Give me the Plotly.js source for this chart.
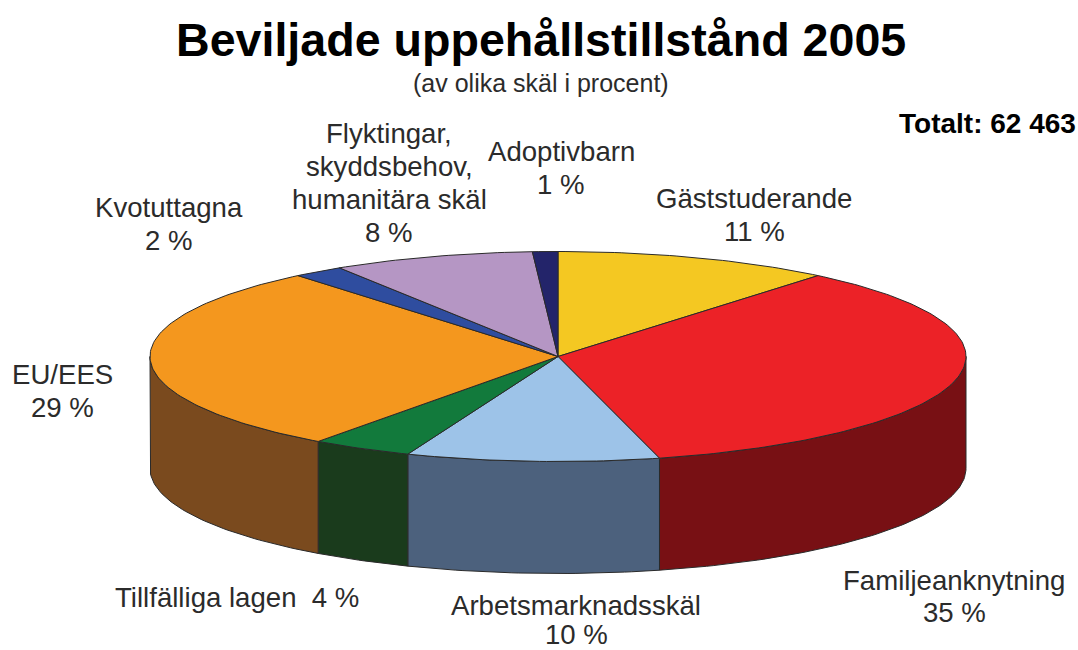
<!DOCTYPE html>
<html>
<head>
<meta charset="utf-8">
<script src="https://cdn.plot.ly/plotly-3.0.1.min.js"></script>
<style>html,body{margin:0;padding:0;background:#fff}#chart{width:1078px;height:650px}</style>
</head>
<body>
<div id="chart"></div>
<script>
// Data, clockwise from 12 o'clock
const categories = ["Gäststuderande","Familjeanknytning","Arbetsmarknadsskäl","Tillfälliga lagen","EU/EES","Kvotuttagna","Flyktingar, skyddsbehov, humanitära skäl","Adoptivbarn"];
const values = [11,35,10,4,29,2,8,1];
const topColors = ["#F4C822","#EC2227","#9DC3E8","#127A3C","#F4971E","#2F4D9F","#B596C4","#23246A"];
const wallColors = ["#8a7010","#781014","#4C617D","#1A3B1C","#7A4A1E","#1a2a58","#665070","#12123a"];

// Label lines and their placement
const labelLines = [
  ["Gäststuderande","11 %"],
  ["Familjeanknytning","35 %"],
  ["Arbetsmarknadsskäl","10 %"],
  ["Tillfälliga lagen  4 %"],
  ["EU/EES","29 %"],
  ["Kvotuttagna","2 %"],
  ["Flyktingar,","skyddsbehov,","humanitära skäl","8 %"],
  ["Adoptivbarn","1 %"]
];
const labelX = [754,954,576,237,62,169,389,561];
const labelY = [198,580,605,597,374,207,133,151];
const labelGap = [33,32,29,33,33,33,33,33];

// Disc geometry in axis units
const cx = 558, cy = 356.5, rx = 408, ry = 105, depth = 112;
const total = values.reduce((a,b)=>a+b,0);
const pt = (deg,dy=0)=>{const r=deg*Math.PI/180;return [cx+rx*Math.sin(r), cy-ry*Math.cos(r)+dy];};
function arc(a0,a1,dy=0){
  const n=Math.max(2,Math.ceil(Math.abs(a1-a0)));const o=[];
  for(let i=0;i<=n;i++) o.push(pt(a0+(a1-a0)*i/n,dy));
  return o;
}
const edge = "#2a2a2a";
const traces = [];
let start = 0;
const spans = values.map(v=>{const s=[start,start+v/total*360];start=s[1];return s;});

spans.forEach((s,i)=>{
  const a0=Math.max(s[0],90), a1=Math.min(s[1],270);
  if(a1<=a0) return;
  const poly=arc(a0,a1,0).concat(arc(a1,a0,depth));poly.push(poly[0]);
  traces.push({type:"scatter",mode:"lines",x:poly.map(p=>p[0]),y:poly.map(p=>p[1]),fill:"toself",
    fillcolor:wallColors[i],line:{color:edge,width:1},name:categories[i],hoverinfo:"skip",showlegend:false});
});
spans.forEach((s,i)=>{
  const poly=[[cx,cy]].concat(arc(s[0],s[1],0));poly.push([cx,cy]);
  traces.push({type:"scatter",mode:"lines",x:poly.map(p=>p[0]),y:poly.map(p=>p[1]),fill:"toself",
    fillcolor:topColors[i],line:{color:edge,width:1},name:categories[i],
    text:categories[i]+": "+values[i]+" %",hoverinfo:"text",showlegend:false});
});

const font = "Liberation Sans, Arial, sans-serif";
const txt=(x,y,t,size,color,bold)=>({x,y,xref:"x",yref:"y",text:bold?"<b>"+t+"</b>":t,showarrow:false,
  xanchor:"center",yanchor:"middle",font:{family:font,size,color}});
const annotations=[];
labelLines.forEach((lines,i)=>lines.forEach((l,j)=>{
  annotations.push(txt(labelX[i],labelY[i]+j*labelGap[i],l,27.6,"#2b2b2b",false));
}));
annotations.push(txt(541,40,"Beviljade uppehållstillstånd 2005",46.6,"#000",true));
annotations.push(txt(541,83,"(av olika skäl i procent)",25,"#2b2b2b",false));
annotations.push(txt(987,123,"Totalt: 62 463",28,"#000",true));

const hidden={visible:false,fixedrange:true,showgrid:false,zeroline:false};
Plotly.newPlot("chart",traces,{
  width:1078,height:650,margin:{l:0,r:0,t:0,b:0},
  paper_bgcolor:"#fff",plot_bgcolor:"#fff",showlegend:false,
  xaxis:Object.assign({range:[0,1078]},hidden),
  yaxis:Object.assign({range:[650,0]},hidden),
  annotations
},{displayModeBar:false,staticPlot:false});
</script>
</body>
</html>
